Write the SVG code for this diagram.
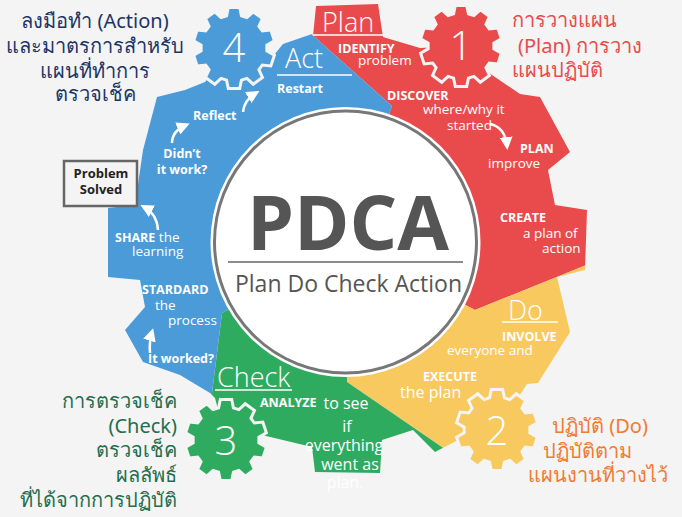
<svg xmlns="http://www.w3.org/2000/svg" xmlns:xlink="http://www.w3.org/1999/xlink" width="682" height="517" viewBox="0 0 682 517">
<style>
.t{font-family:"Open Sans","Noto Sans",sans-serif;fill:#fff}
.kb{font-weight:700;font-size:12.5px}
.d{font-size:13.5px}
.g{font-size:16px}
.q{font-size:27px;font-weight:300}
.num{font-size:40px;font-weight:300;text-anchor:middle}
.th{font-family:"Noto Sans","DejaVu Sans",sans-serif;font-size:20px}
.ul{stroke:#fff;stroke-width:1.5}
.arr{fill:none;stroke:#fff;stroke-width:2.5;marker-end:url(#ah)}
.cog{stroke:#f4f4f4;stroke-width:3}
</style>
<defs>
<marker id="ah" markerUnits="userSpaceOnUse" markerWidth="13" markerHeight="13" refX="9" refY="6.5" orient="auto">
<path d="M0,0 L13,6.5 L0,13 z" fill="#fff"/>
</marker>
<path id="cog" d="M-7.43,-32.16 L-5.71,-40.6 L5.71,-40.6 L7.43,-32.16 L12.89,-30.38 L19.25,-36.2 L28.48,-29.49 L24.91,-21.65 L28.29,-17 L36.85,-17.97 L40.38,-7.12 L32.87,-2.88 L32.87,2.88 L40.38,7.12 L36.85,17.97 L28.29,17 L24.91,21.65 L28.48,29.49 L19.25,36.2 L12.89,30.38 L7.43,32.16 L5.71,40.6 L-5.71,40.6 L-7.43,32.16 L-12.89,30.38 L-19.25,36.2 L-28.48,29.49 L-24.91,21.65 L-28.29,17 L-36.85,17.97 L-40.38,7.12 L-32.87,2.88 L-32.87,-2.88 L-40.38,-7.12 L-36.85,-17.97 L-28.29,-17 L-24.91,-21.65 L-28.48,-29.49 L-19.25,-36.2 L-12.89,-30.38 Z"/>
<path id="body" d="M313,36 L316,6 L378,4 L383,37 L420,48 L461,46 L492,75 L520,94 L540,97 L570,152 L548,170 L555,205 L587,210 L585,270 L557,277 L570,332 L538,383 L527,384 L497,430 L458,440 L435,452 L413,430 L382,440 L380,473 L315,472 L312,447 L262,435 L226,440 L215,398 L210,393 L180,375 L143,362 L125,330 L145,307 L140,280 L108,277 L108,208 L135,205 L143,150 L157,97 L185,90 L205,82 L234,48 L270,60 L283,44 L312,34 Z"/>
<clipPath id="cRed"><polygon points="345,242 392,106 262,-10 700,-10 700,219 475,310"/></clipPath>
<clipPath id="cYel"><polygon points="345,242 475,310 700,219 700,560 607,560 417,430 347,382"/></clipPath>
<clipPath id="cGrn"><polygon points="345,242 347,382 417,430 607,560 191,560 212,393 222,313"/></clipPath>
<clipPath id="cBlu"><polygon points="345,242 222,313 212,393 191,560 -10,560 -10,-10 262,-10 392,106"/></clipPath>
</defs>
<rect width="682" height="517" fill="#f4f4f4"/>
<g id="gear-body">
<use xlink:href="#body" href="#body" fill="#e94b4c" clip-path="url(#cRed)"/>
<use xlink:href="#body" href="#body" fill="#f7c95f" clip-path="url(#cYel)"/>
<use xlink:href="#body" href="#body" fill="#2eab5f" clip-path="url(#cGrn)"/>
<use xlink:href="#body" href="#body" fill="#4a9bd8" clip-path="url(#cBlu)"/>
</g>
<g id="gear-1"><use href="#cog" x="461" y="46" fill="#e94b4c" class="cog"/><text class="t num" x="461" y="60">1</text></g>
<g id="gear-2"><use href="#cog" x="497" y="430" fill="#f7c95f" class="cog"/><text class="t num" x="497" y="445">2</text></g>
<g id="gear-3"><use href="#cog" x="226" y="440" fill="#2eab5f" class="cog"/><text class="t num" x="226" y="455">3</text></g>
<g id="gear-4"><use href="#cog" x="234" y="48" fill="#4a9bd8" class="cog"/><text class="t num" x="234" y="62">4</text></g>
<g id="center">
<circle cx="345.5" cy="242" r="135" fill="#fff"/>
<circle cx="345.5" cy="242" r="131" fill="#fff" stroke="#777" stroke-width="3"/>
<text x="348" y="250" text-anchor="middle" font-family="'Open Sans','Noto Sans',sans-serif" font-weight="700" font-size="75" fill="#555">PDCA</text>
<line x1="228" y1="262" x2="463" y2="262" stroke="#666" stroke-width="1.5"/>
<text x="348.5" y="292" text-anchor="middle" font-family="'Open Sans','Noto Sans',sans-serif" font-size="23" fill="#555">Plan Do Check Action</text>
</g>
<g id="plan">
<text class="t q" x="322" y="32" font-size="25">Plan</text>
<line class="ul" x1="313" y1="35" x2="383" y2="35"/>
<text class="t kb" x="338" y="53">IDENTIFY</text>
<text class="t d" x="358" y="65">problem</text>
<text class="t kb" x="387" y="100">DISCOVER</text>
<text class="t d" x="423" y="114">where/why it</text>
<text class="t d" x="447" y="130">started</text>
<text class="t kb" x="520" y="153">PLAN</text>
<text class="t d" x="488" y="168">improve</text>
<text class="t kb" x="500" y="222">CREATE</text>
<text class="t d" x="523" y="238">a plan of</text>
<text class="t d" x="542" y="253">action</text>
</g>
<g id="do">
<text class="t q" x="508" y="320">Do</text>
<line class="ul" x1="502" y1="322" x2="558" y2="322"/>
<text class="t kb" x="502" y="341">INVOLVE</text>
<text class="t d" x="447" y="355">everyone and</text>
<text class="t kb" x="423" y="381">EXECUTE</text>
<text class="t g" x="400" y="398">the plan</text>
</g>
<g id="check">
<text class="t q" x="217" y="387">Check</text>
<line class="ul" x1="215" y1="390" x2="292" y2="390"/>
<text class="t kb" x="260" y="407">ANALYZE</text>
<g text-anchor="middle">
<text class="t g" x="346" y="409">to see</text>
<text class="t g" x="347" y="432">if</text>
<text class="t g" x="344" y="451">everything</text>
<text class="t g" x="350" y="470">went as</text>
<text class="t g" x="345" y="488">plan.</text>
</g>
</g>
<g id="act">
<text class="t q" x="285" y="68">Act</text>
<line class="ul" x1="277" y1="75" x2="352" y2="75"/>
<text class="t kb" x="277" y="93">Restart</text>
<text class="t kb" x="193" y="120">Reflect</text>
<text class="t kb" x="182" y="158" text-anchor="middle">Didn’t</text>
<text class="t kb" x="182" y="174" text-anchor="middle">it work?</text>
<text class="t" x="115" y="242"><tspan class="kb">SHARE</tspan><tspan class="d"> the</tspan></text>
<text class="t d" x="132" y="256">learning</text>
<text class="t kb" x="142" y="294">STARDARD</text>
<text class="t d" x="155" y="310">the</text>
<text class="t d" x="168" y="325">process</text>
<text class="t kb" x="148" y="363">It worked?</text>
</g>
<g id="problem-solved">
<rect x="64" y="161" width="73" height="45" fill="#f4f4f4" stroke="#666" stroke-width="2.5"/>
<text x="101" y="178" text-anchor="middle" font-family="'Open Sans','Noto Sans',sans-serif" font-weight="700" font-size="13" fill="#222">Problem</text>
<text x="101" y="194" text-anchor="middle" font-family="'Open Sans','Noto Sans',sans-serif" font-weight="700" font-size="13" fill="#222">Solved</text>
</g>
<g id="connectors">
<path class="arr" d="M490,124 Q505,127 507,146"/>
<path class="arr" d="M243,112 Q244,100 256,93"/>
<path class="arr" d="M172,143 Q172,131 186,125"/>
<path class="arr" d="M158,230 Q157,214 144,207"/>
<path class="arr" d="M150,353 Q149,342 152,332"/>
</g>
<g id="note-act" class="th" fill="#1c3567" text-anchor="middle">
<text x="95" y="28">ลงมือทำ (Action)</text>
<text x="95" y="53">และมาตรการสำหรับ</text>
<text x="95" y="78">แผนที่ทำการ</text>
<text x="95" y="101">ตรวจเช็ค</text>
</g>
<g id="note-plan" class="th" fill="#e94b4c">
<text x="512" y="27">การวางแผน</text>
<text x="518" y="53">(Plan) การวาง</text>
<text x="512" y="77">แผนปฏิบัติ</text>
</g>
<g id="note-do" class="th" fill="#f07b31">
<text x="552" y="433">ปฏิบัติ (Do)</text>
<text x="543" y="458">ปฏิบัติตาม</text>
<text x="528" y="482">แผนงานที่วางไว้</text>
</g>
<g id="note-check" class="th" fill="#1f6e4e" text-anchor="end">
<text x="177" y="408">การตรวจเช็ค</text>
<text x="177" y="433">(Check)</text>
<text x="177" y="457">ตรวจเช็ค</text>
<text x="177" y="482">ผลลัพธ์</text>
<text x="177" y="507">ที่ได้จากการปฏิบัติ</text>
</g>
</svg>
